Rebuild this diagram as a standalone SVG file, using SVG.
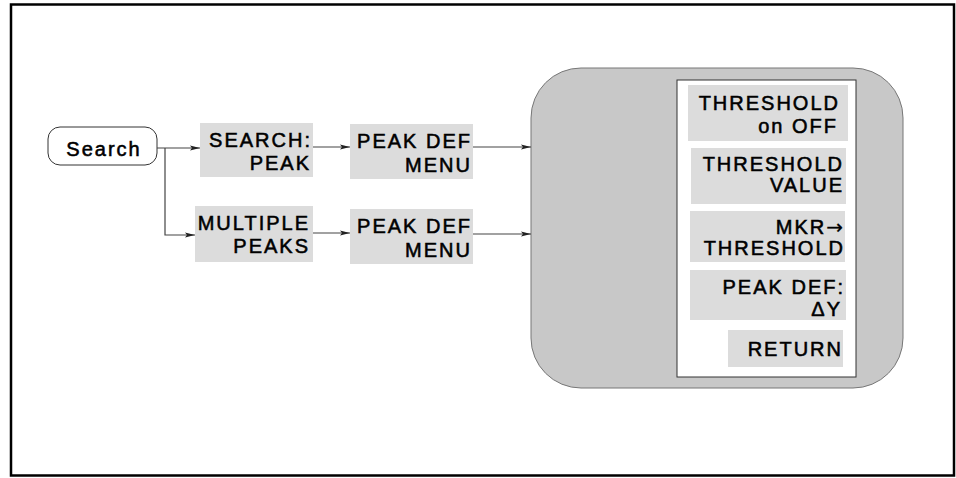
<svg xmlns="http://www.w3.org/2000/svg" width="956" height="478" viewBox="0 0 956 478">
<style>
.t{font-family:"Liberation Sans",Arial,sans-serif;font-size:20px;letter-spacing:2px;fill:#000;stroke:#000;stroke-width:0.55;text-anchor:end}
.lb{fill:#dcdcdc;stroke:none}
.cn{fill:none;stroke:#444;stroke-width:1.2}
.ar{font-family:"DejaVu Sans",sans-serif;letter-spacing:0;stroke-width:0.2}
</style>
<defs>
<marker id="ah" markerUnits="userSpaceOnUse" markerWidth="10" markerHeight="6" refX="10" refY="3" orient="auto">
<path d="M0,0.5 L10,3 L0,5.5 L2,3 z" fill="#222"/>
</marker>
</defs>
<rect x="11" y="4.5" width="943" height="471" fill="#fff" stroke="#000" stroke-width="2.5"/>
<g id="search">
<rect x="48" y="127" width="109" height="38" rx="12" fill="#fff" stroke="#333" stroke-width="1"/>
<text class="t" x="104" y="156" style="text-anchor:middle">Search</text>
</g>
<g id="search-peak">
<rect class="lb" x="200" y="123" width="113" height="54"/>
<text class="t" x="312" y="147">SEARCH:</text>
<text class="t" x="311" y="170">PEAK</text>
</g>
<g id="multiple-peaks">
<rect class="lb" x="195" y="206" width="118" height="56"/>
<text class="t" x="310" y="230">MULTIPLE</text>
<text class="t" x="310" y="253">PEAKS</text>
</g>
<g id="peakdef1">
<rect class="lb" x="350" y="124" width="123" height="55"/>
<text class="t" x="472" y="148">PEAK DEF</text>
<text class="t" x="472" y="172">MENU</text>
</g>
<g id="peakdef2">
<rect class="lb" x="350" y="209" width="123" height="55"/>
<text class="t" x="472" y="233">PEAK DEF</text>
<text class="t" x="472" y="257">MENU</text>
</g>
<g id="menu">
<rect x="531" y="68" width="372" height="320" rx="50" fill="#c8c8c8" stroke="#777" stroke-width="1"/>
<rect x="677" y="80" width="179" height="297" fill="#fff" stroke="#333" stroke-width="1"/>
<g id="k1">
<rect class="lb" x="688" y="85" width="160" height="56"/>
<text class="t" x="840" y="110">THRESHOLD</text>
<text class="t" x="838" y="133">on OFF</text>
</g>
<g id="k2">
<rect class="lb" x="691" y="148" width="155" height="56"/>
<text class="t" x="844" y="171">THRESHOLD</text>
<text class="t" x="844" y="192">VALUE</text>
</g>
<g id="k3">
<rect class="lb" x="690" y="211" width="155" height="51"/>
<text class="t" x="843" y="234">MKR<tspan class="ar">→</tspan></text>
<text class="t" x="845" y="255">THRESHOLD</text>
</g>
<g id="k4">
<rect class="lb" x="690" y="270" width="156" height="50"/>
<text class="t" x="845" y="294">PEAK DEF:</text>
<text class="t" x="842" y="316">ΔY</text>
</g>
<g id="k5">
<rect class="lb" x="728" y="330" width="115" height="37"/>
<text class="t" x="843" y="356">RETURN</text>
</g>
</g>
<g id="connectors">
<path class="cn" d="M157,148 H200" marker-end="url(#ah)"/>
<path class="cn" d="M165,148 V235 H195" marker-end="url(#ah)"/>
<path class="cn" d="M313,147 H350" marker-end="url(#ah)"/>
<path class="cn" d="M313,233 H350" marker-end="url(#ah)"/>
<path class="cn" d="M473,147 H531" marker-end="url(#ah)"/>
<path class="cn" d="M473,234 H531" marker-end="url(#ah)"/>
</g>
</svg>
